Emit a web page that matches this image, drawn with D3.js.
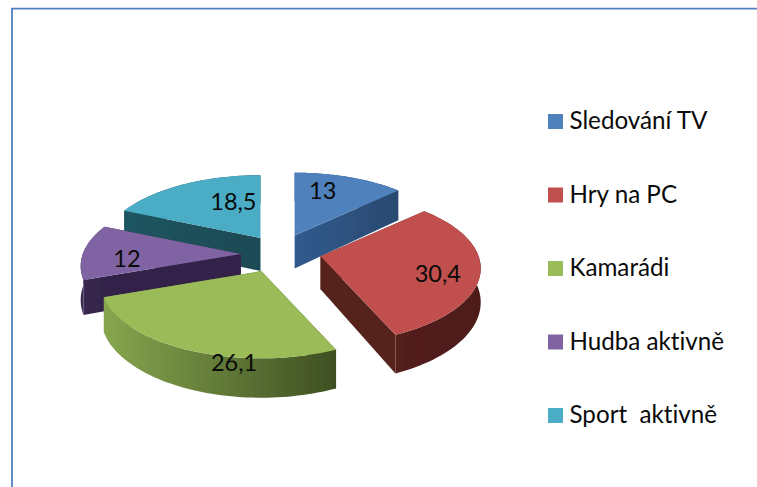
<!DOCTYPE html>
<html><head><meta charset="utf-8">
<script src="https://cdn.jsdelivr.net/npm/d3@7"></script>
<style>html,body{margin:0;padding:0;background:#fff}svg{display:block}text{font-family:Lato,"Open Sans",sans-serif;fill:#0a0a0a;font-variant-ligatures:none;font-kerning:normal}</style>
</head><body>
<svg id="c" width="757" height="487"></svg>
<script>
const categories = ["Sledování TV","Hry na PC","Kamarádi","Hudba aktivně","Sport  aktivně"];
const values = [13,30.4,26.1,12,18.5];
const valueLabels = ["13","30,4","26,1","12","18,5"];
const topColors = ["#4f81bd","#c0504d","#9bbb59","#8064a2","#4bacc6"];
const rimStart = ["#305a8e","#54201d","#86a64e","#3a2a52","#1f5560"];
const rimEnd = ["#2b4a70","#4e1b19","#3e4f22","#33234a","#1b4a54"];
const labelRadius = [0.747,0.745,1.03,0.717,0.6];
const labelAngleDeg = [15.4,105.5,188,266.8,341.8];
const drawOrder = [4,0,3,1,2];
const nudgeX = [-2,0.5,-3.5,0.5,2];
const nudgeY = [-2,-2,-0.5,0,-1];

const W=757,H=487, cx=280.6, cy=254.5, A=158, B=73, persp=0.163, explode=0.255, depthBase=33;
const svg=d3.select("#c");
const defs=svg.append("defs");
defs.append("filter").attr("id","soft").append("feGaussianBlur").attr("stdDeviation",0.5);

// frame
svg.append("path").attr("d",d3.line()([[12,H],[12,8.7],[W,8.7]])).attr("fill","none").attr("stroke","#4f81bd").attr("stroke-width",1.8);

const pie=d3.pie().sort(null).value(d=>d)(values);
const xS=d3.scaleLinear().domain([-1,1]).range([-A,A]);
const yS=d3.scaleLinear().domain([-1,1]).range([B,-B]);
const wOf=y=>1+persp*y;
function pt(ax,ay,r,t){const x=r*Math.sin(t),y=r*Math.cos(t),w=wOf(y);return [ax+xS(x)/w,ay+yS(y)/w,depthBase/w];}
function apex(s,i){const m=(s.startAngle+s.endAngle)/2;
  return [cx+xS(explode*Math.sin(m))+nudgeX[i], cy+yS(explode*Math.cos(m))+nudgeY[i]];}
const line=d3.line();
const g=svg.append("g").attr("filter","url(#soft)");

drawOrder.forEach(i=>{
  const s=pie[i],[ax,ay]=apex(s,i);
  const n=60, arc=d3.range(n+1).map(k=>pt(ax,ay,1,s.startAngle+(s.endAngle-s.startAngle)*k/n));
  const xs=d3.extent(arc,p=>p[0]);
  const gid="rim"+i;
  const gr=defs.append("linearGradient").attr("id",gid).attr("gradientUnits","userSpaceOnUse")
    .attr("x1",xs[0]).attr("x2",xs[1]).attr("y1",0).attr("y2",0);
  gr.append("stop").attr("offset",0).attr("stop-color",rimStart[i]);
  gr.append("stop").attr("offset",1).attr("stop-color",rimEnd[i]);
  const apexT=[ax,ay], apexB=[ax,ay+depthBase];
  const top=arc.map(p=>[p[0],p[1]]), bot=arc.map(p=>[p[0],p[1]+p[2]]);
  const f=g.append("g");
  [0,n].forEach(k=>{
    f.append("path").attr("d",line([apexT,top[k],bot[k],apexB])+"Z").attr("fill",`url(#${gid})`);
  });
  f.append("path").attr("d",line(top.concat(bot.slice().reverse()))+"Z").attr("fill",`url(#${gid})`);
  f.append("path").attr("d",line([apexT].concat(top))+"Z").attr("fill",topColors[i]);
});

// data labels
pie.forEach((s,i)=>{
  const [ax,ay]=apex(s,i);
  const p=pt(ax,ay,labelRadius[i],labelAngleDeg[i]*Math.PI/180);
  svg.append("text").attr("x",p[0]).attr("y",p[1]+1.5).attr("text-anchor","middle")
    .attr("dominant-baseline","central").attr("font-size",23.5).text(valueLabels[i]);
});

// legend
const ly=d3.scalePoint().domain(categories).range([121.5,415.5]);
const leg=svg.append("g").selectAll("g").data(categories).join("g").attr("transform",d=>`translate(548,${ly(d)})`);
leg.append("rect").attr("x",0).attr("y",-7.5).attr("width",15).attr("height",15).attr("fill",(d,i)=>topColors[i]);
leg.append("text").attr("x",21.5).attr("y",-2).attr("dominant-baseline","central").attr("font-size",24.2).style("white-space","pre").text(d=>d);
</script>
</body></html>
